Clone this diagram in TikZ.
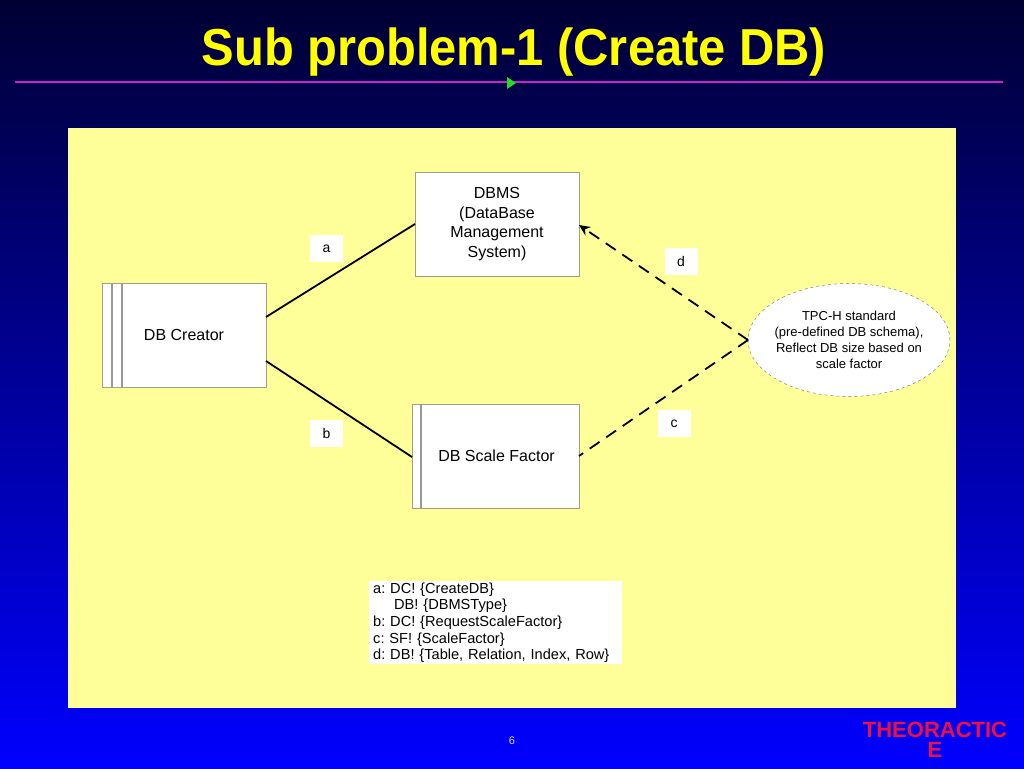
\documentclass[tikz,border=0pt]{standalone}
\usepackage{fontspec}
\setmainfont{Liberation Sans}
\usetikzlibrary{arrows.meta,shapes.geometric}
\definecolor{bgtop}{HTML}{000033}
\definecolor{bgbot}{HTML}{0000FF}
\definecolor{panel}{HTML}{FFFF99}
\definecolor{boxgray}{HTML}{A0A080}
\definecolor{innergray}{HTML}{999999}
\definecolor{rule}{HTML}{CC22CC}
\definecolor{tri}{HTML}{22DD22}
\definecolor{titley}{HTML}{FFFF00}
\definecolor{brand}{HTML}{F01040}
\begin{document}
\begin{tikzpicture}[x=1pt,y=-1pt,
  box/.style={draw=boxgray, fill=white, line width=0.8pt, minimum width=164pt, minimum height=104pt, inner sep=0pt, outer sep=0pt, align=center, font=\fontsize{16}{19.5}\selectfont},
  lbl/.style={fill=white, minimum width=33pt, minimum height=27pt, inner sep=0pt, font=\fontsize{14}{16}\selectfont},
  conn/.style={line width=1.8pt},
  dconn/.style={line width=1.8pt, dash pattern=on 12pt off 8pt},
  inner/.style={draw=innergray, line width=1.3pt},
]
\useasboundingbox (0,0) rectangle (1024,768);
\shade[top color=bgtop, bottom color=bgbot] (0,0) rectangle (1024,768);
% title
\node[anchor=base, text=titley, font=\fontsize{52}{56}\selectfont\bfseries] (title) at (514,65) {\scalebox{0.94}[1]{Sub problem-1 (Create DB)}};
\draw[rule, line width=1.5pt] (15,82) -- (1003,82);
\fill[tri] (507,77) -- (516,83) -- (507,89) -- cycle;
% panel
\fill[panel] (68,128) rectangle (956,708);
% nodes
\node[box, minimum width=164pt] (creator) at (184,335) {DB Creator};
\draw[inner] ([xshift=10pt]creator.north west) -- ([xshift=10pt]creator.south west);
\draw[inner] ([xshift=20pt]creator.north west) -- ([xshift=20pt]creator.south west);
\node[box, minimum width=164pt] (dbms) at (497,224) {DBMS\\(DataBase\\Management\\System)};
\node[box, minimum width=167pt] (sf) at (495.5,456) {\hspace*{2pt}DB Scale Factor};
\draw[inner] ([xshift=9pt]sf.north west) -- ([xshift=9pt]sf.south west);
\node[ellipse, draw=gray, dashed, line width=0.5pt, fill=white, minimum width=202pt, minimum height=113pt, inner xsep=-4pt, inner ysep=0pt, outer sep=0pt, align=center, font=\fontsize{13}{16}\selectfont] (tpch) at (849,340) {TPC-H standard\\(pre-defined DB schema),\\Reflect DB size based on\\scale factor};
% labels
\node[lbl] (la) at (326.5,248.5) {a};
\node[lbl] (lb) at (326.5,433.5) {b};
\node[lbl] (lc) at (674,423.5) {c};
\node[lbl] (ld) at (681,261.5) {d};
% connectors
\draw[conn] ([yshift=18pt]creator.east) -- (dbms.west);
\draw[conn] ([yshift=-26pt]creator.east) -- ([yshift=-1pt]sf.west);
\draw[dconn] (tpch.west) -- (sf.east);
\draw[dconn, -{Stealth[length=11pt,width=10pt]}] (tpch.west) -- ([yshift=-1pt]dbms.east);
% legend
\node[fill=white, anchor=north west, minimum width=253pt, minimum height=83pt, text width=245pt, align=left, inner xsep=4pt, inner ysep=0pt, font=\fontsize{14.6}{16.7}\selectfont\frenchspacing] (legend) at (369,581) {a: DC! \{CreateDB\}\\\hspace*{21pt}DB! \{DBMSType\}\\b: DC! \{RequestScaleFactor\}\\c: SF! \{ScaleFactor\}\\d: DB! \{Table, Relation, Index, Row\}};
% footer
\node[text=white!85!blue, font=\fontsize{11}{13}\selectfont] (pnum) at (512,741) {6};
\node[align=center, text=brand, font=\fontsize{22}{20}\selectfont\bfseries] (brandt) at (935,740) {THEORACTIC\\E};
\end{tikzpicture}
\end{document}
